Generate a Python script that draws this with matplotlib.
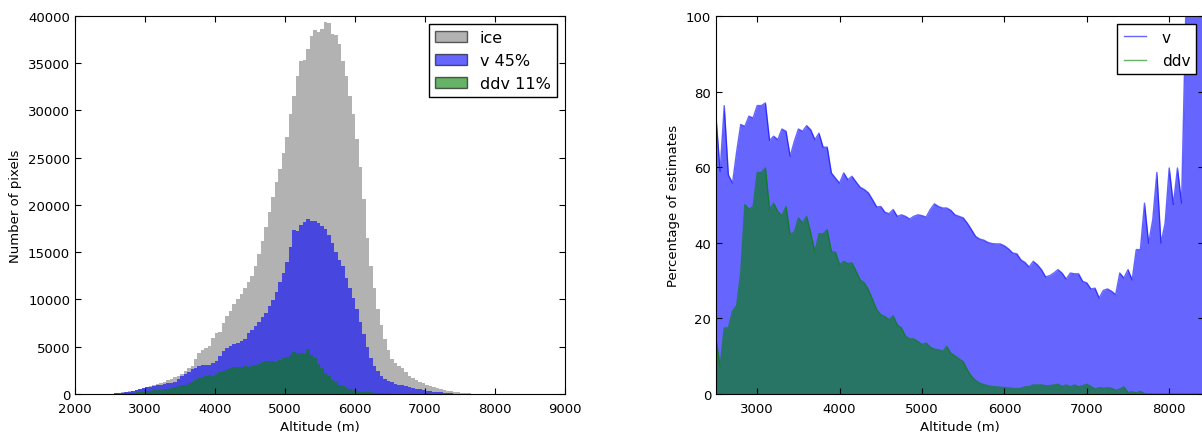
import numpy as np
import matplotlib.pyplot as plt
from matplotlib.patches import Patch

# histogram bins (left edges, 50 m wide)
bin_left = np.arange(2500, 7800, 50)

ice_counts = [50, 80, 120, 170, 220, 280, 350, 420, 500, 600,
              700, 800, 950, 1100, 1200, 1300, 1500, 1600, 1800, 1950,
              2100, 2400, 2700, 3000, 3700, 4300, 4600, 4900, 5100, 5900,
              6400, 6600, 7500, 8300, 8800, 9500, 10000, 10600, 11200, 11800,
              12500, 13500, 14800, 16200, 17700, 19200, 20800, 22400, 23800, 25500,
              27200, 29600, 31500, 33600, 35200, 35300, 36500, 37900, 38500, 38300,
              38600, 39300, 39200, 38100, 38000, 37000, 35200, 33600, 31500, 29600,
              27000, 24000, 20600, 16500, 13500, 11200, 9000, 7300, 5800, 4600,
              3700, 3300, 3000, 2700, 2300, 1900, 1700, 1500, 1300, 1150,
              1000, 850, 700, 600, 500, 400, 330, 270, 220, 170,
              130, 100, 70, 50, 30, 10]

v_counts = [30, 60, 100, 150, 200, 260, 330, 400, 500, 600,
            700, 780, 850, 950, 1000, 1050, 1150, 1200, 1300, 1600,
            1900, 2100, 2300, 2600, 2800, 3000, 3100, 3050, 3100, 3300,
            3500, 4000, 4500, 4900, 5100, 5300, 5400, 5600, 5800, 6500,
            6800, 7200, 7600, 8100, 8600, 9300, 9900, 10800, 11800, 12800,
            14000, 15500, 17300, 17200, 17900, 18200, 18500, 18300, 18300, 18100,
            17800, 17400, 16800, 16000, 15000, 14200, 13500, 12300, 11200, 10100,
            9000, 7600, 6300, 5000, 3800, 3000, 2400, 1900, 1600, 1400,
            1250, 1100, 1000, 900, 800, 700, 600, 550, 480, 420,
            360, 300, 250, 200, 160, 130, 100, 70, 50, 30,
            10, 0, 0, 0, 0, 0]

ddv_counts = [20, 30, 50, 70, 90, 110, 130, 160, 200, 230,
              280, 320, 380, 420, 470, 520, 560, 620, 700, 800,
              900, 1000, 1150, 1300, 1500, 1700, 1800, 1900, 2000, 1950,
              2100, 2300, 2400, 2650, 2800, 2900, 2850, 2900, 2950, 2900,
              3000, 3100, 3150, 3400, 3500, 3450, 3500, 3400, 3600, 3800,
              3900, 4100, 4400, 4300, 4350, 4200, 4800, 4100, 3800, 3200,
              2700, 2200, 1900, 1500, 1250, 1000, 800, 650, 500, 400,
              300, 250, 200, 180, 160, 140, 120, 100, 90, 70,
              50, 40, 30, 20, 10, 0, 0, 0, 0, 0,
              0, 0, 0, 0, 0, 0, 0, 0, 0, 0,
              0, 0, 0, 0, 0, 0]

# percentage of estimates per altitude step
alt = np.arange(2500, 8450, 50)

v_pct = [73.5, 58.9, 76.3, 58, 55.8, 64, 71.3, 70.8, 73.5, 73,
         76.3, 76.3, 77, 67.1, 68.2, 67.3, 70.1, 69.5, 62.9, 66.8,
         70.1, 69.5, 71, 69.9, 67.3, 69, 65.3, 65.3, 58.5, 57.1,
         55.8, 58.5, 56.7, 57.6, 56.1, 54.7, 54.1, 53.2, 51.4, 49.5,
         49.6, 48.1, 47.7, 48.8, 47, 47.4, 47, 46.3, 47, 47.4,
         47.2, 46.8, 48.8, 50.3, 49.6, 49.2, 49.2, 48.6, 47.4, 47,
         46.6, 45.2, 43.5, 41.7, 41, 40.7, 40.1, 39.8, 39.7, 39.7,
         39.2, 38.4, 37.3, 37.1, 35.5, 34.8, 33.6, 35.1, 34.2, 32.9,
         31, 31.3, 32, 32.9, 32, 30.4, 32, 31.8, 31.8, 29.8,
         29.4, 27.8, 28, 25.4, 27.4, 27.8, 27.2, 26.3, 32, 30.7,
         32.9, 30.2, 38.2, 38.2, 50.5, 39.9, 46.1, 58.6, 39.9, 45.2,
         59.8, 50.1, 59.8, 50.5, 100, 100, 100, 100, 100]

ddv_pct = [14.8, 7.3, 17.5, 17.5, 21.9, 23.4, 32, 50.1, 48.9, 49.5,
           58.6, 58.6, 59.8, 48.9, 50.5, 48.3, 47.2, 49.6, 42.2, 42.8,
           46.6, 45.2, 47, 42.6, 37.7, 42.4, 42.4, 43.5, 37.7, 37.5,
           34.2, 35.1, 34.5, 34.7, 32.5, 30.2, 29.4, 27.6, 25, 22.3,
           21, 20.5, 19.7, 20.7, 18.3, 17.5, 15.3, 14.6, 14.6, 13.9,
           13.1, 13.5, 12.4, 11.9, 11.7, 11.3, 12.6, 10.8, 10.1, 9.3,
           8.6, 6.4, 4.7, 3.6, 2.9, 2.5, 2.2, 2.0, 1.9, 1.8,
           1.7, 1.6, 1.5, 1.4, 1.5, 1.9, 2.0, 2.4, 2.4, 2.4,
           2.2, 2.2, 2.4, 2.6, 2.0, 2.4, 1.9, 2.4, 1.9, 2.2,
           2.6, 2.0, 1.3, 1.7, 1.5, 1.7, 1.5, 1.0, 1.3, 1.9,
           0.4, 0.6, 0.3, 0.7, 0.1, 0, 0, 0, 0, 0,
           0, 0, 0, 0, 0, 0, 0, 0, 0]

plt.rcParams["font.family"] = "DejaVu Sans"
plt.rcParams["xtick.direction"] = "in"
plt.rcParams["ytick.direction"] = "in"
plt.rcParams["xtick.top"] = True
plt.rcParams["ytick.right"] = True
plt.rcParams["xtick.major.size"] = 4
plt.rcParams["ytick.major.size"] = 4
plt.rcParams["xtick.major.pad"] = 5.5

fig = plt.figure(figsize=(12.02, 4.35), dpi=100)

# left: histogram
edges = np.append(bin_left, bin_left[-1] + 50)
ax1 = fig.add_axes([75/1202, 40/435, 490/1202, 378.3/435])
ax1.stairs(ice_counts, edges, fill=True, color="gray", alpha=0.6, linewidth=0)
ax1.stairs(v_counts, edges, fill=True, color="b", alpha=0.6, linewidth=0)
ax1.stairs(ddv_counts, edges, fill=True, color="g", alpha=0.6, linewidth=0)
ax1.set_xlim(2000, 9000)
ax1.set_ylim(0, 40000)
ax1.set_xticks(range(2000, 9001, 1000))
ax1.set_yticks(range(0, 40001, 5000))
ax1.tick_params(labelsize=9.5)
ax1.set_xlabel("Altitude (m)", fontsize=9.5)
ax1.set_ylabel("Number of pixels", fontsize=9.5)
handles = [Patch(facecolor="gray", edgecolor="k", alpha=0.6, label="ice"),
           Patch(facecolor="b", edgecolor="k", alpha=0.6, label="v 45%"),
           Patch(facecolor="g", edgecolor="k", alpha=0.6, label="ddv 11%")]
leg1 = ax1.legend(handles=handles, loc="upper right", fontsize=11.5, fancybox=False,
                  framealpha=1, edgecolor="k", borderpad=0.4, labelspacing=0.5,
                  handlelength=2.0, handletextpad=0.8, borderaxespad=0.5)

# right: percentage of estimates
ax2 = fig.add_axes([716/1202, 40/435, 488/1202, 378/435])
ax2.fill_between(alt, 0, v_pct, color="b", alpha=0.6, linewidth=0)
ax2.plot(alt, v_pct, color="b", alpha=0.6, linewidth=1, label="v")
ax2.fill_between(alt, 0, ddv_pct, color="g", alpha=0.6, linewidth=0)
ax2.plot(alt, ddv_pct, color="g", alpha=0.6, linewidth=1, label="ddv")
ax2.set_xlim(2500, 8422)
ax2.set_ylim(0, 100)
ax2.set_xticks(range(3000, 8001, 1000))
ax2.set_yticks(range(0, 101, 20))
ax2.tick_params(labelsize=9.5)
ax2.set_xlabel("Altitude (m)", fontsize=9.5)
ax2.set_ylabel("Percentage of estimates", fontsize=9.5)
ax2.legend(loc="upper right", fontsize=11, fancybox=False, framealpha=1,
           edgecolor="k", handlelength=1.5, handletextpad=1.0,
           labelspacing=0.55, borderaxespad=0.5)

plt.savefig("out.png", dpi=100)
